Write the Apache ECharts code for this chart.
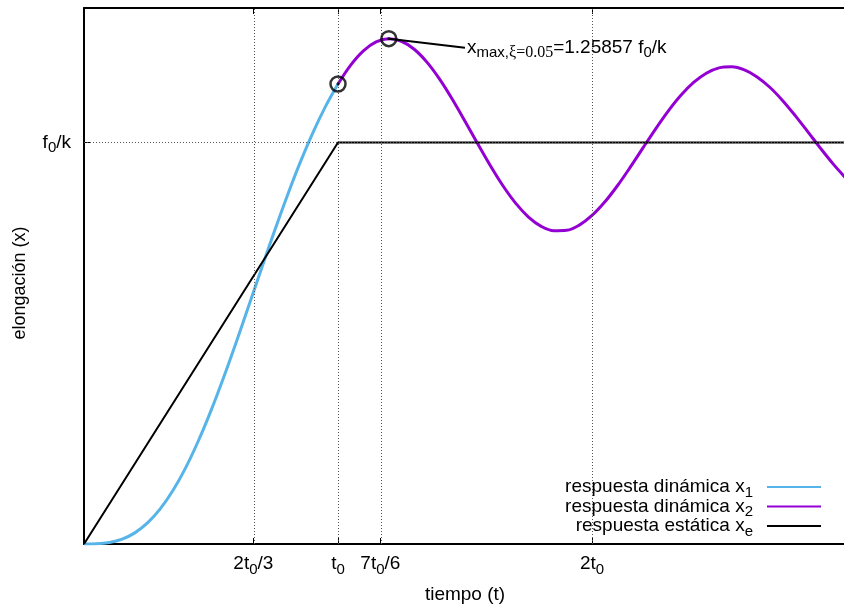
<!DOCTYPE html>
<html><head><meta charset="utf-8">
<script src="https://cdn.jsdelivr.net/npm/echarts@6/dist/echarts.min.js"></script>
<style>html,body{margin:0;padding:0;background:#fff}#c{width:844px;height:604px}</style>
</head><body><div id="c"></div>
<script>
// time in units of t0, elongation in units of f0/k
const tX1 = [0,0.05,0.1,0.15,0.2,0.25,0.3,0.35,0.4,0.45,0.5,0.55,0.6,0.65,0.7,0.75,0.8,0.85,0.9,0.95,1.0];
const x1Vals = [0,0.0005,0.0036,0.0120,0.0277,0.0524,0.0874,0.1332,0.1897,0.2565,0.3322,0.4154,0.5039,0.5957,0.6883,0.7794,0.8668,0.9485,1.0229,1.0888,1.1457];
const tX2 = [1.0,1.05,1.1,1.15,1.2,1.25,1.3,1.35,1.4,1.45,1.5,1.55,1.6,1.65,1.7,1.75,1.8,1.85,1.9,1.95,2.0,2.05,2.1,2.15,2.2,2.25,2.3,2.35,2.4,2.45,2.5,2.55,2.6,2.65,2.7,2.75,2.8,2.85,2.9,2.95,3.0];
const x2Vals = [1.1457,1.1928,1.2283,1.2505,1.2585,1.2522,1.2323,1.2002,1.1578,1.1078,1.0531,0.9968,0.9420,0.8916,0.8483,0.8143,0.7912,0.7801,0.7812,0.7943,0.8183,0.8516,0.8923,0.9379,0.9859,1.0335,1.0782,1.1175,1.1495,1.1726,1.1858,1.1885,1.1808,1.1634,1.1376,1.1048,1.0670,1.0265,0.9854,0.9462,0.9107];
const tXe = [0,1,3];
const xeVals = [0,1,1];
const markT = [1.0, 1.2];
const markVals = [1.1457, 1.25857];
const annotT = [1.2, 1.5];
const annotVals = [1.25857, 1.236];
const xTickVals = [2/3, 1, 7/6, 2];
const xTickLabels = ['2t{s|0}/3', 't{s|0}', '7t{s|0}/6', '2t{s|0}'];
const yTickVals = [1];
const yTickLabels = ['f{s|0}/k'];
const seriesNames = ['x1','x2','xe'];
const legendLabels = ['respuesta dinámica x{s|1}', 'respuesta dinámica x{s|2}', 'respuesta estática x{s|e}'];
const annotText = 'x{s|max,}{g|ξ=0.05}=1.25857 f{s|0}/k';

const FONT = '"Liberation Sans", Arial, Helvetica, sans-serif';
const sub = {fontFamily: FONT, fontSize: 15, lineHeight: 14, verticalAlign: 'bottom', color: '#000'};
const zip = (a, b) => a.map((v, i) => [v, b[i]]);
const lookup = (vals, labels) => v => {
  for (let i = 0; i < vals.length; i++) if (Math.abs(v - vals[i]) < 1e-6) return labels[i];
  return '';
};

const chart = echarts.init(document.getElementById('c'), null, {renderer: 'canvas'});
const axisLineStyle = {show: true, onZero: false, lineStyle: {color: '#000', width: 2}};
const option = {
  animation: false,
  backgroundColor: '#fff',
  grid: {left: 84, right: -2, top: 8, bottom: 60, containLabel: false, outerBoundsMode: 'none'},
  xAxis: [{
    type: 'value', min: 0, max: 3, position: 'bottom',
    name: 'tiempo (t)', nameLocation: 'middle', nameGap: 41,
    nameTextStyle: {fontFamily: FONT, fontSize: 19, color: '#000'},
    axisLine: axisLineStyle,
    axisTick: {show: true, inside: true, length: 6, customValues: xTickVals, lineStyle: {color: '#000', width: 1}},
    axisLabel: {show: true, customValues: xTickVals, formatter: lookup(xTickVals, xTickLabels), margin: 7,
      fontFamily: FONT, fontSize: 19, color: '#000', lineHeight: 26, rich: {s: sub}},
    splitLine: {show: false}
  }, {
    type: 'value', min: 0, max: 3, position: 'top',
    axisLine: axisLineStyle,
    axisTick: {show: true, inside: true, length: 6, customValues: xTickVals, lineStyle: {color: '#000', width: 1}},
    axisLabel: {show: false},
    splitLine: {show: false}
  }],
  yAxis: {
    type: 'value', min: 0, max: 1.335,
    name: 'elongación (x)', nameLocation: 'middle', nameGap: 55,
    nameTextStyle: {fontFamily: FONT, fontSize: 18, color: '#000', padding: [0, 14, 0, 0]},
    axisLine: axisLineStyle,
    axisTick: {show: true, inside: true, length: 6, customValues: yTickVals, lineStyle: {color: '#000', width: 1}},
    axisLabel: {show: true, customValues: yTickVals, formatter: lookup(yTickVals, yTickLabels), margin: 13,
      fontFamily: FONT, fontSize: 19, color: '#000', lineHeight: 26, rich: {s: sub}},
    splitLine: {show: false}
  },
  legend: {
    data: seriesNames, orient: 'vertical', right: 22, top: 474, align: 'right',
    itemWidth: 54, itemHeight: 14, itemGap: -6.5, padding: 0, selectedMode: false,
    itemStyle: {opacity: 0},
    formatter: name => legendLabels[seriesNames.indexOf(name)],
    textStyle: {fontFamily: FONT, fontSize: 19, color: '#000', lineHeight: 26, padding: [0, 9, 0, 0], rich: {s: sub}}
  },
  series: [
    {
      name: 'grid', type: 'line', data: [], z: 1, silent: true,
      markLine: {
        silent: true, symbol: ['none', 'none'], label: {show: false},
        lineStyle: {color: '#555', type: [1, 2], width: 1},
        data: xTickVals.map(v => ({xAxis: v})).concat(yTickVals.map(v => ({yAxis: v})))
      }
    },
    {
      name: 'x1', type: 'line', data: zip(tX1, x1Vals), smooth: 0.35, symbol: 'none', z: 2,
      lineStyle: {color: '#56b4e9', width: 3, join: 'round'}, itemStyle: {color: '#56b4e9'}
    },
    {
      name: 'x2', type: 'line', data: zip(tX2, x2Vals), smooth: 0.35, symbol: 'none', z: 2,
      lineStyle: {color: '#9400d3', width: 3, join: 'round'}, itemStyle: {color: '#9400d3'}
    },
    {
      name: 'xe', type: 'line', data: zip(tXe, xeVals), symbol: 'none', z: 3,
      lineStyle: {color: '#000', width: 2}, itemStyle: {color: '#000'}
    },
    {
      name: 'annot', type: 'line', data: zip(annotT, annotVals), symbol: 'none', z: 4, silent: true,
      lineStyle: {color: '#000', width: 2},
      endLabel: {show: true, formatter: annotText, distance: 2, fontFamily: FONT, fontSize: 19, color: '#000',
        lineHeight: 26, rich: {s: sub, g: {fontFamily: '"Liberation Serif", "Times New Roman", serif', fontSize: 16, lineHeight: 14, verticalAlign: 'bottom', color: '#000'}}}
    },
    {
      name: 'marks', type: 'scatter', data: zip(markT, markVals), symbol: 'circle', symbolSize: 15, z: 5, silent: true,
      itemStyle: {color: 'rgba(0,0,0,0)', borderColor: '#000', borderWidth: 2.5}
    },
    {
      name: 'markdots', type: 'scatter', data: zip(markT, markVals), symbol: 'circle', symbolSize: 3, z: 5, silent: true,
      itemStyle: {color: '#000'}
    }
  ]
};
chart.setOption(option);
</script>
</body></html>
